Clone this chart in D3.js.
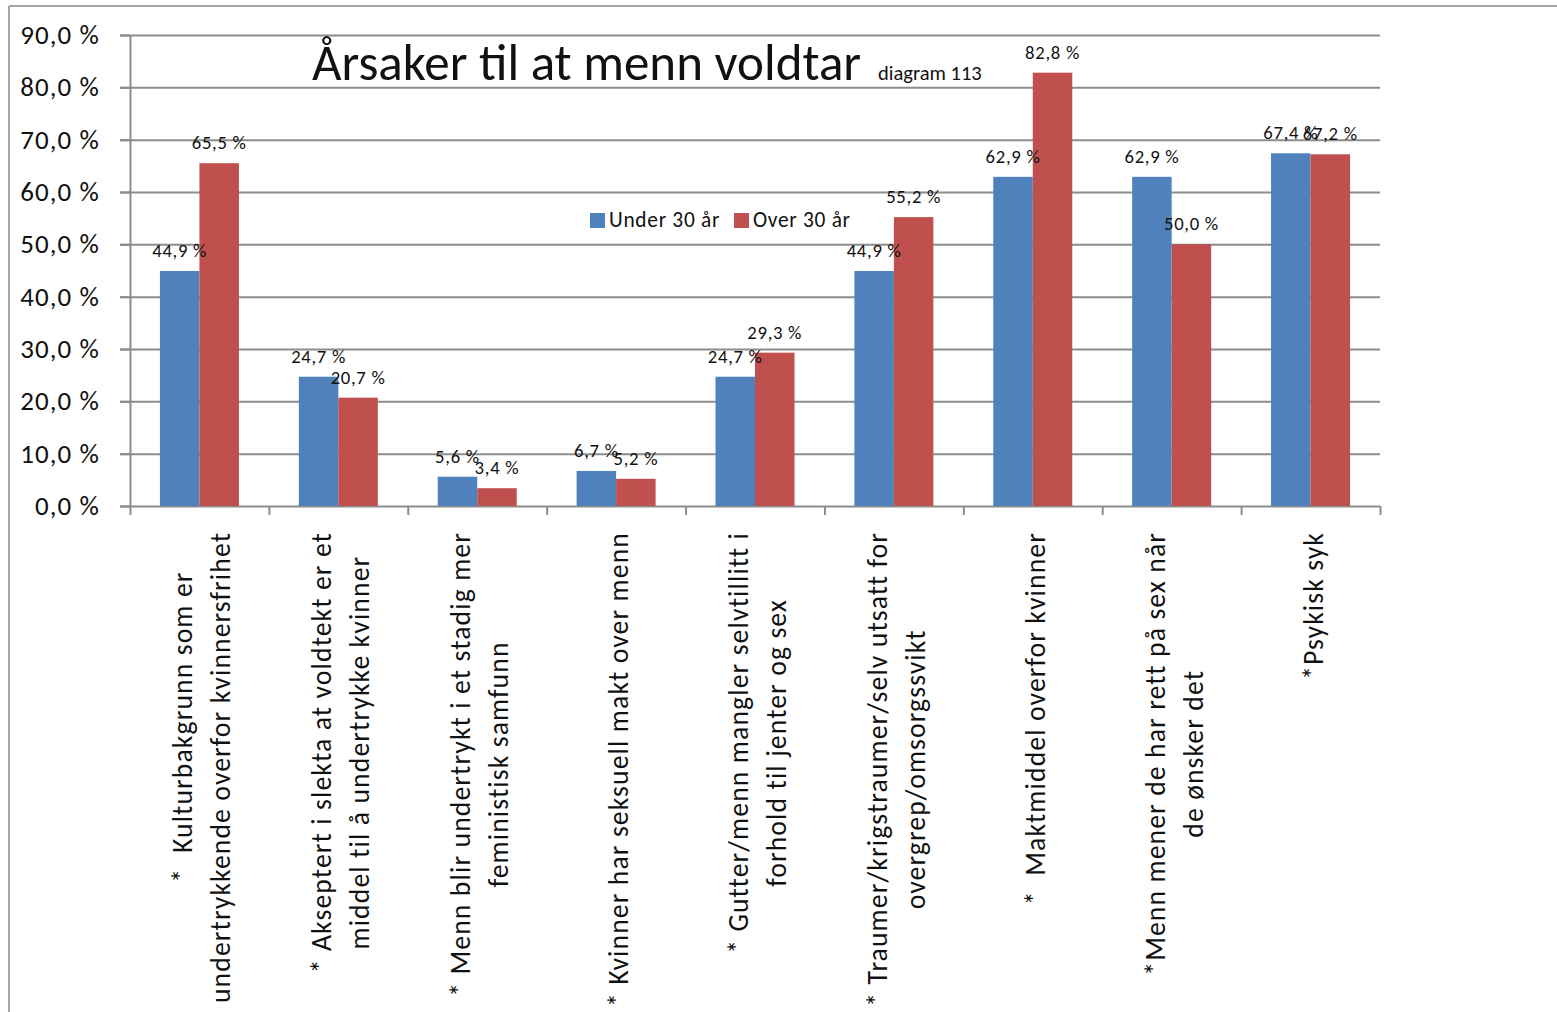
<!DOCTYPE html>
<html>
<head>
<meta charset="utf-8">
<script src="https://cdn.jsdelivr.net/npm/d3@7"></script>
<style>
  body { margin: 0; background: #fff; }
  svg { display: block; }
  text { font-family: Calibri, Carlito, Lato, sans-serif; fill: #111; }
</style>
</head>
<body>
<svg id="chart" width="1557" height="1012"></svg>
<script>
// Category labels, one entry per group, split into the printed lines
const categories = [
  ["           *  Kulturbakgrunn som er", "undertrykkende overfor kvinnersfrihet"],
  ["* Akseptert i slekta at voldtekt er et", "middel til å undertrykke kvinner"],
  ["* Menn blir undertrykt i et stadig mer", "feministisk samfunn"],
  ["* Kvinner har seksuell makt over menn"],
  ["* Gutter/menn mangler selvtillitt i", "forhold til jenter og sex"],
  ["* Traumer/krigstraumer/selv utsatt for", "overgrep/omsorgssvikt"],
  ["*  Maktmiddel overfor kvinner"],
  ["*Menn mener de har rett på sex når", "de ønsker det"],
  ["*Psykisk syk"]
];
const seriesNames = ["Under 30 år", "Over 30 år"];
const under30 = [44.9, 24.7, 5.6, 6.7, 24.7, 44.9, 62.9, 62.9, 67.4];
const over30  = [65.5, 20.7, 3.4, 5.2, 29.3, 55.2, 82.8, 50.0, 67.2];
const yTicks = [0, 10, 20, 30, 40, 50, 60, 70, 80, 90];
const titleText = "Årsaker til at menn voldtar";
const subtitleText = "diagram 113";

const colors = ["#4F81BD", "#C0504D"];
const gridColor = "#8c8c8c";

const svg = d3.select("#chart");
const nb = d3.formatLocale({ decimal: ",", thousands: " ", grouping: [3], currency: ["", " kr"] });
const pct = v => nb.format(".1f")(v) + " %";

// Plot frame
const plotL = 130, plotR = 1380, plotT = 35, plotB = 506;
const y = d3.scaleLinear().domain([0, 90]).range([plotB, plotT]);
const x0 = d3.scaleBand().domain(d3.range(categories.length)).range([plotL, plotR]);
const xEdge = d3.scaleLinear().domain([0, categories.length]).range([plotL, plotR]);
const x1 = d3.scaleBand().domain(d3.range(seriesNames.length)).range([0, 79]);
const groupW = x1.range()[1];

// Page border lines
svg.append("line").attr("x1", 9).attr("y1", 6).attr("x2", 1557).attr("y2", 6)
  .attr("stroke", "#a6a6a6").attr("stroke-width", 2);
svg.append("line").attr("x1", 9).attr("y1", 6).attr("x2", 9).attr("y2", 1012)
  .attr("stroke", "#a6a6a6").attr("stroke-width", 2);

// Horizontal gridlines
const grid = svg.append("g").attr("transform", `translate(${plotL - 10},0)`)
  .call(d3.axisRight(y).tickValues(yTicks.slice(1)).tickSize(plotR - plotL + 10).tickFormat(""));
grid.select(".domain").remove();
grid.selectAll("line").attr("stroke", gridColor).attr("stroke-width", 2);

// Y axis
const yAxis = svg.append("g").attr("transform", `translate(${plotL},0)`)
  .call(d3.axisLeft(y).tickValues(yTicks).tickSize(10).tickSizeOuter(0).tickPadding(20).tickFormat(pct));
yAxis.select(".domain").attr("stroke", gridColor).attr("stroke-width", 2);
yAxis.selectAll("line").attr("stroke", gridColor).attr("stroke-width", 2);
yAxis.selectAll("text").style("font-size", "27px").style("letter-spacing", "1.1px").attr("fill", "#111");

// X axis with category separators
const xAxis = svg.append("g").attr("transform", `translate(0,${plotB})`)
  .call(d3.axisBottom(xEdge).tickValues(d3.range(categories.length + 1)).tickSize(9).tickSizeOuter(0).tickFormat(""));
xAxis.select(".domain").attr("stroke", gridColor).attr("stroke-width", 2)
  .attr("d", `M${plotL - 10},0.5H${plotR}`);
xAxis.selectAll("line").attr("stroke", gridColor).attr("stroke-width", 2);

// Bars, then value labels on top of all bars
const series = [under30, over30];
const barX = (s, i) => x0(i) + x0.bandwidth() / 2 - groupW / 2 + x1(s);
const barLayer = svg.append("g");
const labelLayer = svg.append("g");
series.forEach((vals, s) => {
  barLayer.append("g").selectAll("rect").data(vals).join("rect")
    .attr("x", (d, i) => barX(s, i))
    .attr("y", d => y(d))
    .attr("width", x1.bandwidth())
    .attr("height", d => y(0) - y(d))
    .attr("fill", colors[s]);
  labelLayer.append("g").selectAll("text").data(vals).join("text")
    .attr("x", (d, i) => barX(s, i) + x1.bandwidth() / 2)
    .attr("y", d => y(d) - 14)
    .attr("text-anchor", "middle")
    .style("font-size", "18.7px")
    .style("letter-spacing", "0.7px")
    .text(d => pct(d));
});

// Category labels, rotated, block anchored just below the axis
const lineGap = 38;
categories.forEach((lines, i) => {
  const cx = x0(i) + x0.bandwidth() / 2;
  const g = svg.append("g");
  const texts = lines.map(ln => g.append("text")
    .style("font-size", "27.7px")
    .style("letter-spacing", "1.1px")
    .style("white-space", "pre")
    .attr("text-anchor", "middle")
    .text(ln));
  const longest = d3.max(texts, t => t.node().getComputedTextLength());
  texts.forEach((t, k) => {
    const lx = cx + 12 + (k - (lines.length - 1) / 2) * lineGap;
    t.attr("transform", `translate(${lx},${532 + longest / 2}) rotate(-90)`);
  });
});

// Title
svg.append("text").attr("x", 312).attr("y", 80)
  .style("font-size", "51px").text(titleText);
svg.append("text").attr("x", 878).attr("y", 80)
  .style("font-size", "20.5px").text(subtitleText);

// Legend
const legend = svg.append("g");
const legendX = [590, 734];
seriesNames.forEach((name, s) => {
  legend.append("rect").attr("x", legendX[s]).attr("y", 213)
    .attr("width", 15).attr("height", 15).attr("fill", colors[s]);
  legend.append("text").attr("x", legendX[s] + 19).attr("y", 227)
    .style("font-size", "21.4px").style("letter-spacing", "0.7px").text(name);
});
</script>
</body>
</html>
